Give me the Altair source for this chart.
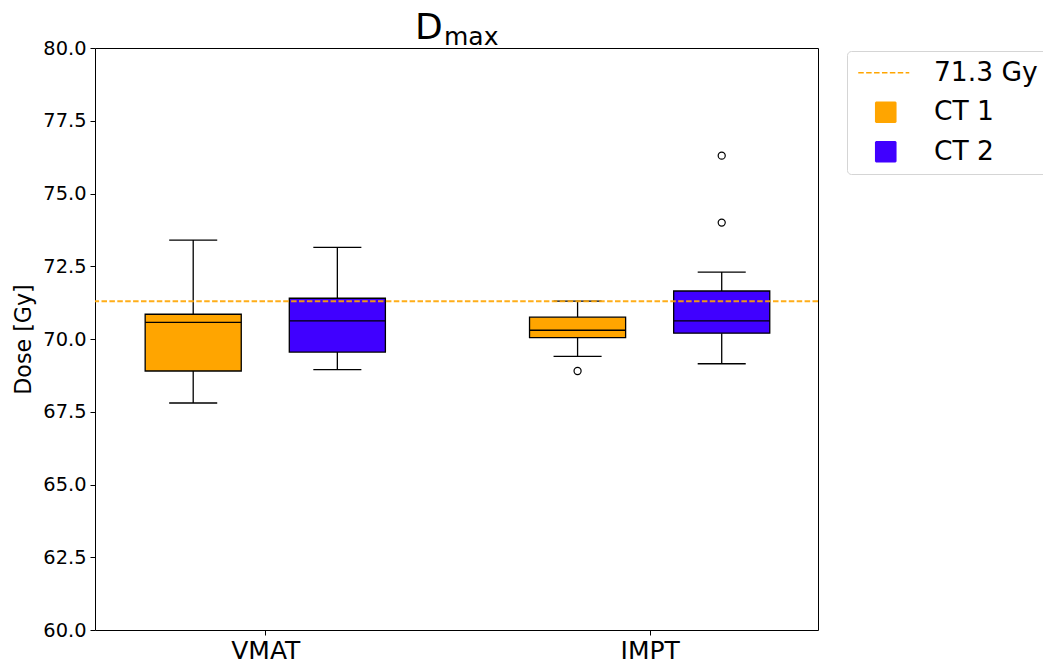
import altair as alt
import pandas as pd

# ---- data -------------------------------------------------------------
groups = ["VMAT", "IMPT"]
series = ["CT 1", "CT 2"]

box_group = ["VMAT", "VMAT", "IMPT", "IMPT"]
box_series = ["CT 1", "CT 2", "CT 1", "CT 2"]
whisker_low = [67.8, 68.95, 69.4, 69.15]
q1 = [68.9, 69.55, 70.05, 70.2]
median = [70.57, 70.62, 70.3, 70.62]
q3 = [70.85, 71.4, 70.75, 71.65]
whisker_high = [73.4, 73.15, 71.3, 72.3]

outlier_group = ["IMPT", "IMPT", "IMPT"]
outlier_series = ["CT 1", "CT 2", "CT 2"]
outlier_value = [68.9, 74.0, 76.3]

threshold = 71.3
legend_labels = ["71.3 Gy", "CT 1", "CT 2"]
legend_colors = ["#FFA500", "#FFA500", "#4000FF"]

title_main = "D"
title_sub = "max"
y_label = "Dose [Gy]"

# ---- layout helpers ---------------------------------------------------
FONT = "DejaVu Sans"
offset = {"CT 1": -0.1875, "CT 2": 0.1875}
box_half = 0.125
cap_half = 0.0625


def position(g, s):
    return groups.index(g) + 1 + offset[s]


boxes = pd.DataFrame({
    "group": box_group, "ct": box_series,
    "low": whisker_low, "q1": q1, "med": median, "q3": q3, "high": whisker_high,
})
boxes["pos"] = [position(g, s) for g, s in zip(box_group, box_series)]
boxes["left"] = boxes["pos"] - box_half
boxes["right"] = boxes["pos"] + box_half
boxes["capl"] = boxes["pos"] - cap_half
boxes["capr"] = boxes["pos"] + cap_half

fliers = pd.DataFrame({"group": outlier_group, "ct": outlier_series, "value": outlier_value})
fliers["pos"] = [position(g, s) for g, s in zip(outlier_group, outlier_series)]

x_scale = alt.Scale(domain=[0.557, 2.438], nice=False, zero=False)
y_scale = alt.Scale(domain=[60, 80], nice=False, zero=False)
label_expr = "[" + ",".join(f"'{g}'" for g in groups) + "][datum.value - 1]"

x_axis = alt.Axis(values=[1, 2], labelExpr=label_expr, title=None, grid=False,
                  labelFontSize=25, labelPadding=3, tickSize=5)
y_axis = alt.Axis(values=[60 + 2.5 * i for i in range(9)], format=".1f", title=y_label,
                  grid=False, labelFontSize=19.4, labelPadding=4, tickSize=5,
                  titleFontSize=22.2, titleFontWeight="normal", titlePadding=7)

X = lambda f: alt.X(f, type="quantitative", scale=x_scale, axis=x_axis)
Y = lambda f: alt.Y(f, type="quantitative", scale=y_scale, axis=y_axis)

fill_scale = alt.Scale(domain=legend_labels, range=legend_colors)
line_path = "M-2.75,0H2.35"
shape_scale = alt.Scale(domain=legend_labels, range=[line_path, "square", "square"])
dash_scale = alt.Scale(domain=legend_labels, range=[[5.5, 2.4], [1, 0], [1, 0]])

legend = alt.Legend(
    title=None, orient="none", legendX=752, legendY=3, padding=8.5,
    strokeColor="#d5d5d5", cornerRadius=4, fillColor="white",
    labelFont=FONT, labelFontSize=26.5, labelColor="black", labelLimit=400,
    symbolSize=400, symbolStrokeWidth=1.6, symbolOffset=17, labelOffset=35,
    rowPadding=12.5, symbolOpacity=1,
)

base = alt.Chart(boxes)

whisk_lo = base.mark_rule(color="black", strokeWidth=1.3).encode(x=X("pos"), y=Y("low"), y2="q1")
whisk_hi = base.mark_rule(color="black", strokeWidth=1.3).encode(x=X("pos"), y=Y("q3"), y2="high")
cap_lo = base.mark_rule(color="black", strokeWidth=1.3).encode(x=X("capl"), x2="capr", y=Y("low"))
cap_hi = base.mark_rule(color="black", strokeWidth=1.3).encode(x=X("capl"), x2="capr", y=Y("high"))
box = base.mark_rect(stroke="black", strokeWidth=1.3).encode(
    x=X("left"), x2="right", y=Y("q1"), y2="q3",
    fill=alt.Fill("ct:N", scale=fill_scale, legend=legend),
)
med = base.mark_rule(color="black", strokeWidth=1.3).encode(x=X("left"), x2="right", y=Y("med"))

outliers = alt.Chart(fliers).mark_point(
    shape="circle", filled=False, color="black", size=50, strokeWidth=1.2, opacity=1
).encode(x=X("pos"), y=Y("value"))

ref_line = alt.Chart(pd.DataFrame({"dose": [threshold]})).mark_rule(
    color="#FFA500", strokeDash=[5.5, 2.4], strokeWidth=2, opacity=0.9
).encode(y=Y("dose"))

# legend entries: no rows are drawn, the scales carry the entries
legend_layer = alt.Chart(pd.DataFrame({"ct": legend_labels})).transform_filter("false").mark_point(
    filled=True, opacity=1
).encode(
    fill=alt.Fill("ct:N", scale=fill_scale, legend=legend),
    stroke=alt.Stroke("ct:N", scale=fill_scale, legend=legend),
    shape=alt.Shape("ct:N", scale=shape_scale, legend=legend),
    strokeDash=alt.StrokeDash("ct:N", scale=dash_scale, legend=legend),
)

title_d = alt.Chart(pd.DataFrame({"t": [title_main]})).mark_text(
    font=FONT, fontSize=36, align="left", baseline="alphabetic", color="black"
).encode(text="t:N", x=alt.value(320), y=alt.value(-9))
title_s = alt.Chart(pd.DataFrame({"t": [title_sub]})).mark_text(
    font=FONT, fontSize=25, align="left", baseline="alphabetic", color="black"
).encode(text="t:N", x=alt.value(349), y=alt.value(-3))

chart = alt.layer(
    whisk_lo, whisk_hi, cap_lo, cap_hi, box, med, outliers, ref_line,
    legend_layer, title_d, title_s,
).properties(
    width=723, height=582,
    autosize=alt.AutoSizeParams(type="none"),
    padding={"left": 95, "top": 48, "right": 225, "bottom": 36},
).configure(
    font=FONT,
).configure_view(
    stroke="black", strokeWidth=1,
).configure_axis(
    domain=False, labelColor="black", titleColor="black", tickColor="black",
    labelFont=FONT, titleFont=FONT,
)

chart.save("out.html", embed_options={"renderer": "svg", "actions": False})
